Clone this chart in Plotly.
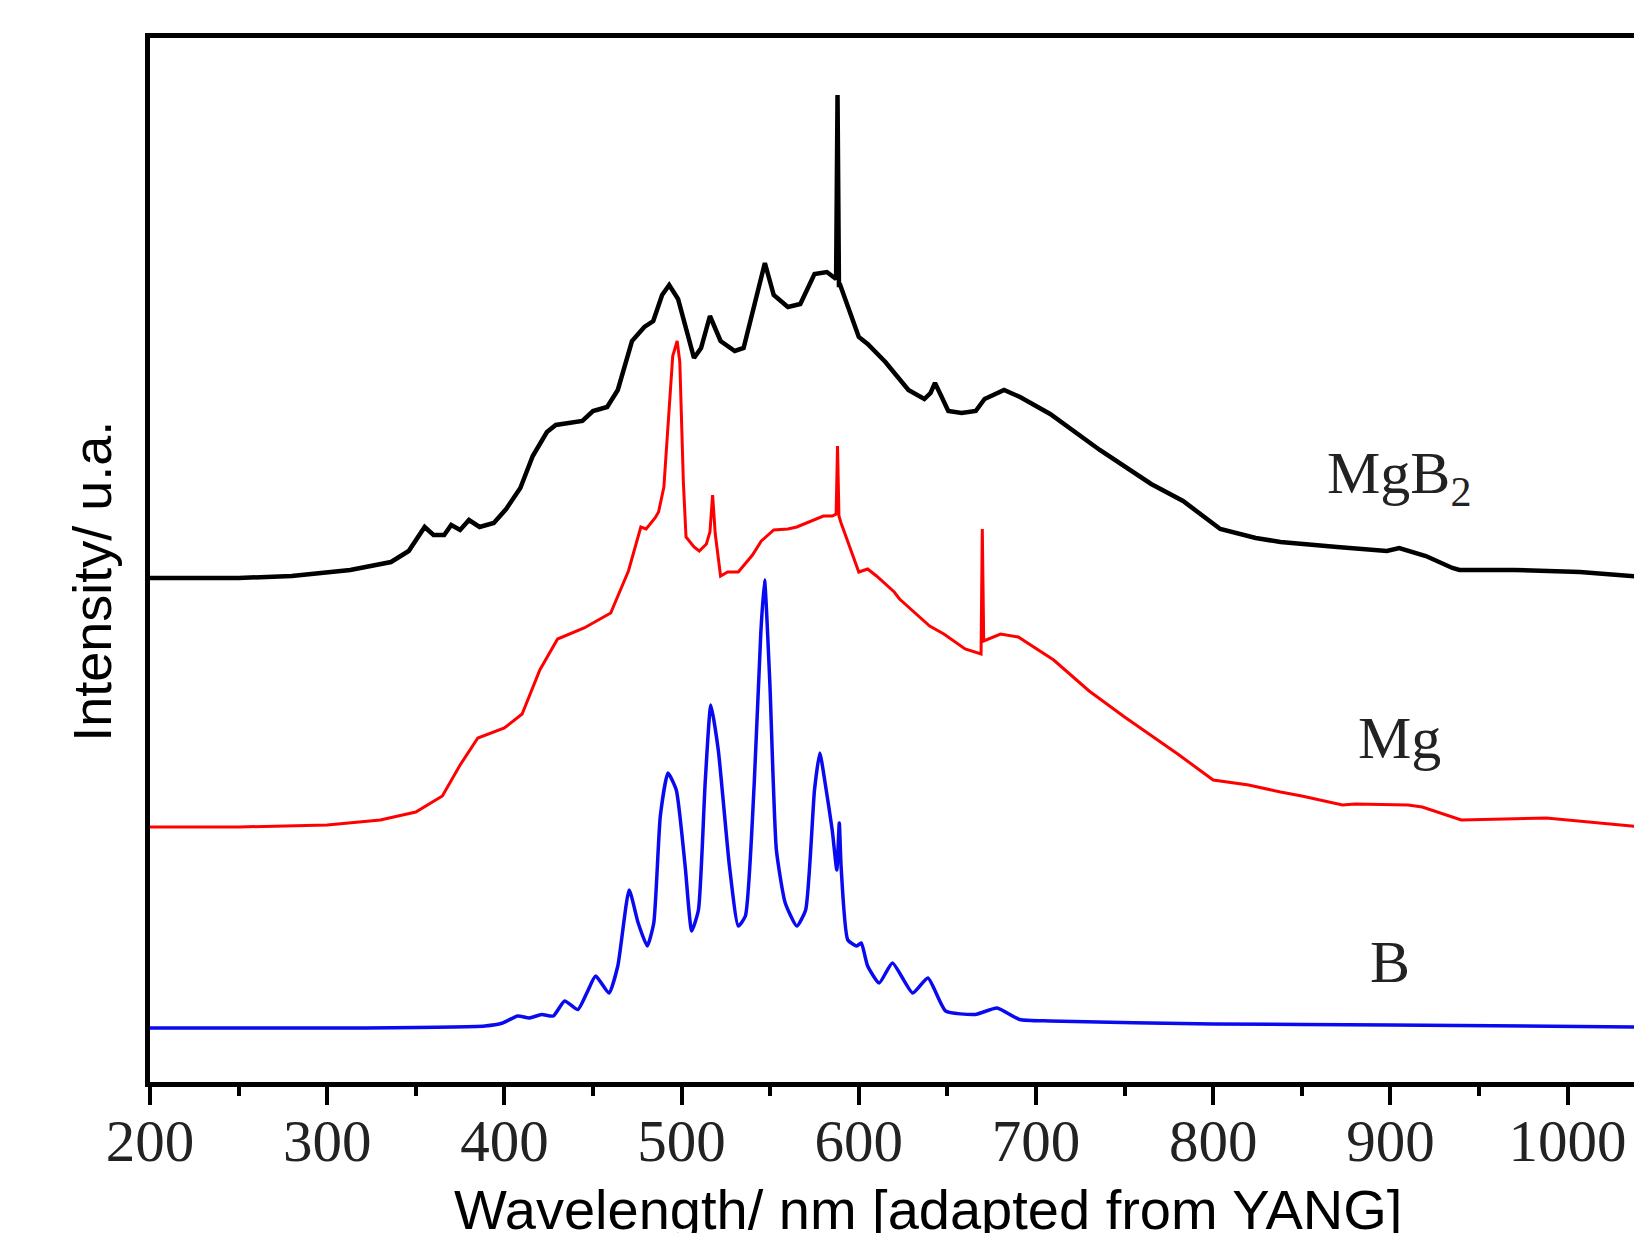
import plotly.graph_objects as go

# ---- data (wavelength nm, intensity a.u.) ----
mgb2_x = [200, 250, 280, 300, 313, 336, 346, 355, 360, 366, 370, 375, 380, 386, 394, 401, 409, 416,
          424, 429, 444, 450, 458, 464, 472, 479, 484, 489, 493, 498, 507, 511, 516, 522, 530, 535,
          542, 547, 552, 560, 567, 575, 582, 586.5, 587.2, 588, 588.8, 589.5, 600, 605, 615, 628,
          637, 640.5, 643, 646, 650.5, 658, 666, 671, 682, 691, 701, 708, 736, 765, 783, 804, 824,
          838, 870, 898, 905, 920, 935, 939, 970, 1007, 1042]
mgb2_y = [504, 504, 506, 509, 512, 520, 531, 555, 547, 547, 557, 552, 562, 555, 559, 573, 594, 626,
          650, 657, 661, 671, 675, 692, 741, 755, 761, 787, 797, 783, 724, 734, 766, 741, 731, 734,
          783, 819, 787, 775, 778, 808, 810, 803, 803, 987, 797, 797, 745, 738, 720, 692,
          683, 689, 699, 688, 671, 669, 671, 683, 692, 685, 675, 668, 632, 598, 581, 553, 544,
          540, 535, 531, 534, 526, 514, 512, 512, 510, 505]

mg_x = [200, 250, 300, 330, 350, 365, 375, 385, 400, 410, 420, 430, 445, 460, 470, 477, 480, 485,
        487, 490, 495, 497.5, 499, 501, 502.5, 507, 510, 514, 516, 517.5, 519, 522, 526, 532, 540,
        545, 552, 560, 565, 575, 580, 585, 587.2, 588, 588.8, 590, 600, 605, 610, 620, 623, 640,
        648, 660, 669, 669.7, 670.5, 680, 690, 710, 730, 750, 780, 800, 820, 838, 850, 873, 880,
        910, 918, 940, 988, 1042]
mg_y = [255, 255, 257, 262, 270, 286, 317, 344, 354, 368, 412, 443, 454, 469, 511, 555, 553, 564,
        570, 595, 726, 741, 720, 600, 545, 535, 531, 538, 550, 587, 548, 506, 510, 510, 527,
        541, 552, 553, 555, 562, 566, 566, 568, 636, 566, 559, 510, 513, 506, 490, 483, 456,
        448, 433, 428, 553, 441, 448, 445, 422, 391, 365, 328, 302, 297, 290, 286, 277, 278,
        277, 275, 262, 264, 255]

b_x = [200, 313, 389, 399, 407.5, 414, 421, 427.6, 434, 441.5, 446.5, 451.5, 459, 464, 470.4, 475.5,
       480.6, 484.3, 488, 492.3, 497, 502, 505.7, 509.5, 513.3, 516.5, 520.7, 527, 532, 536, 541,
       544.7, 546.8, 549.8, 553.5, 558.5, 565, 570, 575, 578, 581, 585, 587.6, 589, 590, 593.8,
       598.9, 601.4, 605, 611.5, 619, 630.4, 639, 649, 665.7, 678, 690.8, 708, 800, 900, 1042]
b_y = [54, 54, 56, 59, 66, 64, 67.5, 66, 81, 72.5, 89, 106, 89, 116, 192, 159,
       136, 159, 266, 309, 292, 216, 151, 172, 299, 377, 332, 216, 156, 166, 299,
       449, 502, 399, 232, 179, 156, 172, 292, 329, 299, 252, 212, 259, 216, 142,
       136, 139, 116, 99, 119, 89, 104, 71, 67.5, 74, 62.5, 61, 58, 57, 55]

x_ticks = [200, 300, 400, 500, 600, 700, 800, 900, 1000]
labels = ["MgB<sub>2</sub>", "Mg", "B"]
label_x = [905, 905, 900]
label_y = [605, 344, 120]

fig = go.Figure()
fig.add_trace(go.Scatter(x=mgb2_x, y=mgb2_y, mode="lines", name="MgB2",
                         line=dict(color="#000000", width=4.5)))
fig.add_trace(go.Scatter(x=mg_x, y=mg_y, mode="lines", name="Mg",
                         line=dict(color="#ff0000", width=3)))
fig.add_trace(go.Scatter(x=b_x, y=b_y, mode="lines", name="B",
                         line=dict(color="#0a0af0", width=3.5, shape="spline", smoothing=0.5)))

for t, lx, ly in zip(labels, label_x, label_y):
    fig.add_annotation(x=lx, y=ly, text=t, showarrow=False, xanchor="center", yanchor="middle",
                       font=dict(family="Liberation Serif", size=60, color="#222222"))

fig.add_annotation(xref="paper", yref="paper", x=-0.0389, y=0.48, text="Intensity/ u.a.",
                   textangle=-90, showarrow=False, xanchor="center", yanchor="middle",
                   font=dict(family="Liberation Sans", size=54, color="#000000"))
fig.add_annotation(xref="paper", yref="paper", x=0.5214, y=-0.1217,
                   text="Wavelength/ nm [adapted from YANG]",
                   showarrow=False, xanchor="center", yanchor="middle",
                   font=dict(family="Liberation Sans", size=56, color="#000000"))

fig.update_layout(
    width=1642, height=1233,
    margin=dict(l=142, r=8, t=30, b=159),
    paper_bgcolor="white", plot_bgcolor="white",
    showlegend=False,
    xaxis=dict(
        range=[200, 1042], tickvals=x_ticks, ticktext=[str(v) for v in x_ticks],
        showgrid=False, zeroline=False,
        showline=True, linecolor="black", linewidth=5, mirror=True,
        ticks="outside", ticklen=18, tickwidth=4, tickcolor="black",
        minor=dict(dtick=50, ticks="outside", ticklen=9, tickwidth=4, tickcolor="black", showgrid=False),
        tickfont=dict(family="Liberation Serif", size=59, color="#222222"),
        ticklabelstandoff=-15,
    ),
    yaxis=dict(
        range=[0, 1044], showgrid=False, zeroline=False, showticklabels=False, ticks="",
        showline=True, linecolor="black", linewidth=5, mirror=False,
    ),
)

fig.write_html("out.html")
